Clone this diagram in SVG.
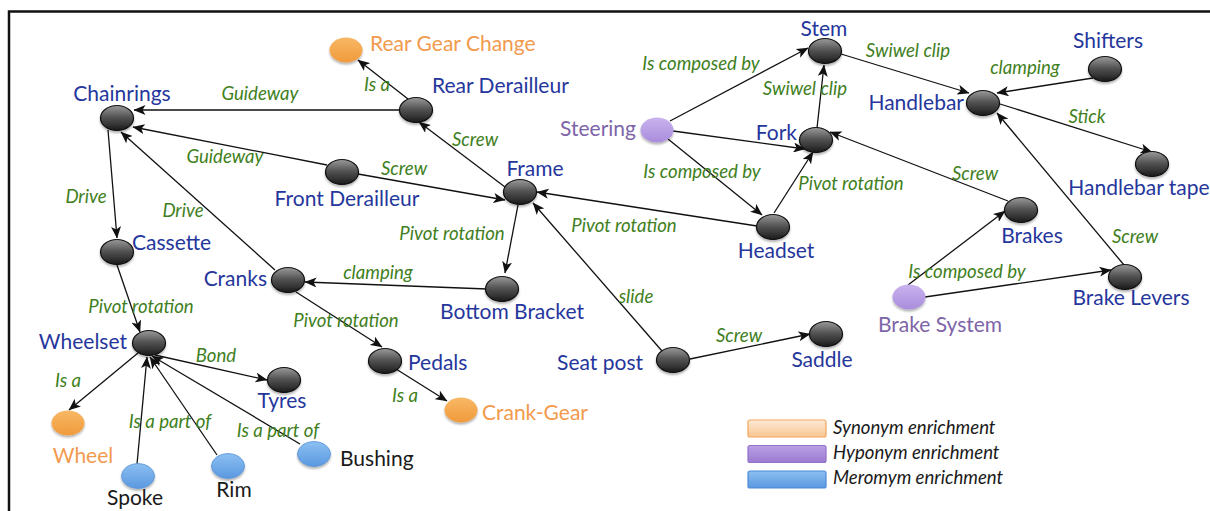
<svg xmlns="http://www.w3.org/2000/svg" width="1210" height="511" viewBox="0 0 1210 511">
<style>
.n{font-family:Lato,"Liberation Sans",sans-serif;font-size:21px;fill:#25369c}
.o{fill:#f29a4e}
.p{fill:#7d64a8}
.k{fill:#1a1a1a}
.e{font-family:Lato,"Liberation Sans",sans-serif;font-size:18.6px;font-style:italic;fill:#3f7f22;text-anchor:middle}
.lg{font-family:Lato,"Liberation Sans",sans-serif;font-size:18.6px;font-style:italic;fill:#1a1a1a}
.m{text-anchor:middle}
.s{text-anchor:start}
.r{text-anchor:end}
.c line{stroke:#111;stroke-width:1.3;marker-end:url(#ah)}
.g{fill:url(#gd);stroke:#111;stroke-width:1.2;filter:url(#sh)}
.og{fill:url(#go);filter:url(#sh)}
.pg{fill:url(#gp);filter:url(#sh)}
.bg{fill:url(#gb);stroke:#5b93d6;stroke-width:0.8;filter:url(#sh)}
</style>
<defs>
<linearGradient id="gd" x1="0" y1="0" x2="0" y2="1">
<stop offset="0" stop-color="#9a9a9a"/><stop offset="0.45" stop-color="#555"/><stop offset="1" stop-color="#1a1a1a"/>
</linearGradient>
<linearGradient id="go" x1="0" y1="0" x2="0" y2="1">
<stop offset="0" stop-color="#f8b865"/><stop offset="1" stop-color="#f09a3c"/>
</linearGradient>
<linearGradient id="gp" x1="0" y1="0" x2="0" y2="1">
<stop offset="0" stop-color="#c9b3ee"/><stop offset="1" stop-color="#a98cdc"/>
</linearGradient>
<linearGradient id="gb" x1="0" y1="0" x2="0" y2="1">
<stop offset="0" stop-color="#8cc0f2"/><stop offset="1" stop-color="#5a98e0"/>
</linearGradient>
<linearGradient id="lo" x1="0" y1="0" x2="0" y2="1">
<stop offset="0" stop-color="#fde9d6"/><stop offset="1" stop-color="#f8c690"/>
</linearGradient>
<linearGradient id="lp" x1="0" y1="0" x2="0" y2="1">
<stop offset="0" stop-color="#b9a0e4"/><stop offset="1" stop-color="#9b7bd2"/>
</linearGradient>
<linearGradient id="lb" x1="0" y1="0" x2="0" y2="1">
<stop offset="0" stop-color="#8cc0f2"/><stop offset="1" stop-color="#5a98e0"/>
</linearGradient>
<filter id="sh" x="-30%" y="-30%" width="160%" height="170%">
<feDropShadow dx="0" dy="2" stdDeviation="1.3" flood-color="#000" flood-opacity="0.3"/>
</filter>
<marker id="ah" viewBox="0 0 12 10" refX="11.5" refY="5" markerWidth="12" markerHeight="10" markerUnits="userSpaceOnUse" orient="auto">
<path d="M0,0 L12,5 L0,10 L3,5 z" fill="#111"/>
</marker>
</defs>
<rect width="1210" height="511" fill="#fff"/>
<path d="M9,511 V11.5 H1210" fill="none" stroke="#111" stroke-width="2.5"/>

<g id="connectors" class="c">
<line x1="408" y1="99" x2="358" y2="60"/>
<line x1="400" y1="110" x2="134" y2="110"/>
<line x1="327" y1="165" x2="133" y2="127"/>
<line x1="358" y1="174" x2="505" y2="200"/>
<line x1="505" y1="187" x2="419" y2="122"/>
<line x1="108" y1="130" x2="117" y2="238"/>
<line x1="275" y1="270" x2="121" y2="132"/>
<line x1="518" y1="205" x2="505" y2="273"/>
<line x1="487" y1="289" x2="305" y2="282"/>
<line x1="296" y1="292" x2="382" y2="347"/>
<line x1="117" y1="265" x2="140" y2="332"/>
<line x1="155" y1="355" x2="267" y2="380"/>
<line x1="138" y1="353" x2="69" y2="410"/>
<line x1="137" y1="464" x2="147" y2="357"/>
<line x1="217" y1="455" x2="150" y2="357"/>
<line x1="300" y1="444" x2="152" y2="356"/>
<line x1="396" y1="369" x2="447" y2="401"/>
<line x1="757" y1="226" x2="537" y2="192"/>
<line x1="662" y1="351" x2="533" y2="203"/>
<line x1="690" y1="359" x2="810" y2="334"/>
<line x1="670" y1="121" x2="808" y2="48"/>
<line x1="673" y1="131" x2="805" y2="149"/>
<line x1="668" y1="139" x2="762" y2="215"/>
<line x1="774" y1="213" x2="813" y2="152"/>
<line x1="817" y1="128" x2="824" y2="65"/>
<line x1="841" y1="54" x2="969" y2="93"/>
<line x1="1093" y1="78" x2="997" y2="93"/>
<line x1="1000" y1="104" x2="1152" y2="152"/>
<line x1="1008" y1="201" x2="830" y2="132"/>
<line x1="1124" y1="265" x2="997" y2="113"/>
<line x1="908" y1="285" x2="1005" y2="211"/>
<line x1="925" y1="297" x2="1111" y2="270"/>
</g>

<g id="edge-labels">
<text class="e" x="377" y="91">Is a</text>
<text class="e" x="260" y="100">Guideway</text>
<text class="e" x="225" y="163">Guideway</text>
<text class="e" x="404" y="175">Screw</text>
<text class="e" x="475" y="146">Screw</text>
<text class="e" x="86" y="203">Drive</text>
<text class="e" x="183" y="217">Drive</text>
<text class="e" x="452" y="240">Pivot rotation</text>
<text class="e" x="378" y="279">clamping</text>
<text class="e" x="346" y="327">Pivot rotation</text>
<text class="e" x="141" y="313">Pivot rotation</text>
<text class="e" x="216" y="362">Bond</text>
<text class="e" x="68" y="387">Is a</text>
<text class="e" x="170" y="428">Is a part of</text>
<text class="e" x="278" y="437">Is a part of</text>
<text class="e" x="405" y="402">Is a</text>
<text class="e" x="624" y="232">Pivot rotation</text>
<text class="e" x="636" y="303">slide</text>
<text class="e" x="739" y="342">Screw</text>
<text class="e" x="701" y="70">Is composed by</text>
<text class="e" x="702" y="178">Is composed by</text>
<text class="e" x="908" y="57">Swiwel clip</text>
<text class="e" x="805" y="95">Swiwel clip</text>
<text class="e" x="1025" y="74">clamping</text>
<text class="e" x="1087" y="123">Stick</text>
<text class="e" x="851" y="190">Pivot rotation</text>
<text class="e" x="975" y="180">Screw</text>
<text class="e" x="1135" y="243">Screw</text>
<text class="e" x="967" y="278">Is composed by</text>
</g>

<g id="chainrings"><ellipse class="g" cx="117" cy="118" rx="16.5" ry="12.5"/><text class="n m" x="122" y="101">Chainrings</text></g>
<g id="rear-gear-change"><ellipse class="og" cx="346" cy="50" rx="16.5" ry="12.5"/><text class="n o s" x="370" y="51">Rear Gear Change</text></g>
<g id="rear-derailleur"><ellipse class="g" cx="416" cy="110" rx="16.5" ry="12.5"/><text class="n s" x="432" y="93">Rear Derailleur</text></g>
<g id="front-derailleur"><ellipse class="g" cx="342" cy="172" rx="16.5" ry="12.5"/><text class="n m" x="347" y="206">Front Derailleur</text></g>
<g id="frame"><ellipse class="g" cx="520" cy="192" rx="16.5" ry="12.5"/><text class="n m" x="535" y="176">Frame</text></g>
<g id="steering"><ellipse class="pg" cx="657" cy="130" rx="16.5" ry="12.5"/><text class="n p r" x="636" y="136">Steering</text></g>
<g id="stem"><ellipse class="g" cx="825" cy="51" rx="16.5" ry="12.5"/><text class="n m" x="824" y="36">Stem</text></g>
<g id="fork"><ellipse class="g" cx="816" cy="140" rx="16.5" ry="12.5"/><text class="n r" x="797" y="140">Fork</text></g>
<g id="handlebar"><ellipse class="g" cx="983" cy="103" rx="16.5" ry="12.5"/><text class="n r" x="964" y="110">Handlebar</text></g>
<g id="shifters"><ellipse class="g" cx="1105" cy="69" rx="16.5" ry="12.5"/><text class="n m" x="1108" y="48">Shifters</text></g>
<g id="handlebar-tape"><ellipse class="g" cx="1152" cy="164" rx="16.5" ry="12.5"/><text class="n m" x="1139" y="195">Handlebar tape</text></g>
<g id="brakes"><ellipse class="g" cx="1021" cy="210" rx="16.5" ry="12.5"/><text class="n m" x="1032" y="243">Brakes</text></g>
<g id="headset"><ellipse class="g" cx="773" cy="227" rx="16.5" ry="12.5"/><text class="n m" x="776" y="258">Headset</text></g>
<g id="brake-levers"><ellipse class="g" cx="1125" cy="277" rx="16.5" ry="12.5"/><text class="n m" x="1131" y="305">Brake Levers</text></g>
<g id="brake-system"><ellipse class="pg" cx="909" cy="297" rx="16.5" ry="12.5"/><text class="n p m" x="940" y="332">Brake System</text></g>
<g id="saddle"><ellipse class="g" cx="826" cy="334" rx="16.5" ry="12.5"/><text class="n m" x="822" y="367">Saddle</text></g>
<g id="seat-post"><ellipse class="g" cx="673" cy="360" rx="16.5" ry="12.5"/><text class="n r" x="643" y="370">Seat post</text></g>
<g id="bottom-bracket"><ellipse class="g" cx="502" cy="289" rx="16.5" ry="12.5"/><text class="n m" x="512" y="319">Bottom Bracket</text></g>
<g id="crank-gear"><ellipse class="og" cx="461" cy="410" rx="16.5" ry="12.5"/><text class="n o s" x="482" y="420">Crank-Gear</text></g>
<g id="pedals"><ellipse class="g" cx="385" cy="361" rx="16.5" ry="12.5"/><text class="n s" x="408" y="370">Pedals</text></g>
<g id="cranks"><ellipse class="g" cx="288" cy="280" rx="16.5" ry="12.5"/><text class="n r" x="267" y="286">Cranks</text></g>
<g id="cassette"><ellipse class="g" cx="117" cy="252" rx="16.5" ry="12.5"/><text class="n s" x="132" y="250">Cassette</text></g>
<g id="wheelset"><ellipse class="g" cx="149" cy="343" rx="16.5" ry="12.5"/><text class="n r" x="127" y="349">Wheelset</text></g>
<g id="tyres"><ellipse class="g" cx="284" cy="380" rx="16.5" ry="12.5"/><text class="n m" x="282" y="408">Tyres</text></g>
<g id="wheel"><ellipse class="og" cx="68" cy="423" rx="16.5" ry="12.5"/><text class="n o m" x="83" y="463">Wheel</text></g>
<g id="spoke"><ellipse class="bg" cx="138" cy="476" rx="16.5" ry="12.5"/><text class="n k m" x="135" y="505">Spoke</text></g>
<g id="rim"><ellipse class="bg" cx="228" cy="466" rx="16.5" ry="12.5"/><text class="n k m" x="234" y="497">Rim</text></g>
<g id="bushing"><ellipse class="bg" cx="314" cy="454" rx="16.5" ry="12.5"/><text class="n k s" x="340" y="466">Bushing</text></g>

<g id="legend">
<rect x="748" y="420" width="78" height="17" rx="2" fill="url(#lo)" stroke="#f2a65a" stroke-width="1.2"/>
<rect x="748" y="445.5" width="78" height="17" rx="2" fill="url(#lp)" stroke="#9272c8" stroke-width="1.2"/>
<rect x="748" y="471" width="78" height="17" rx="2" fill="url(#lb)" stroke="#4c8ad6" stroke-width="1.2"/>
<text class="lg" x="833" y="434">Synonym enrichment</text>
<text class="lg" x="833" y="459">Hyponym enrichment</text>
<text class="lg" x="833" y="484">Meromym enrichment</text>
</g>
</svg>
